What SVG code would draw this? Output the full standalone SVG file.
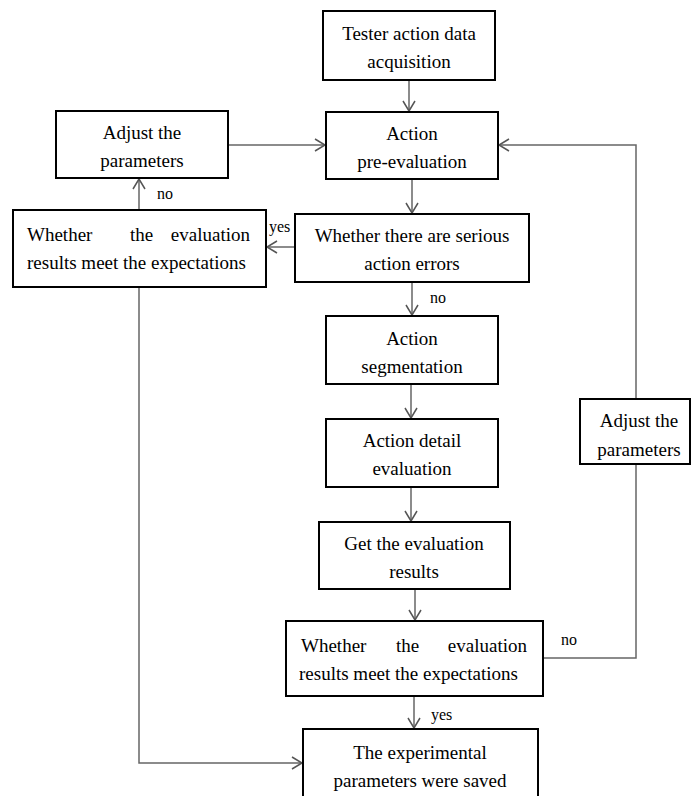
<svg xmlns="http://www.w3.org/2000/svg" width="692" height="796" viewBox="0 0 692 796">
<style>
.box{fill:#fff;stroke:#000;stroke-width:2}
text{font-family:'Liberation Serif','DejaVu Serif',serif;fill:#000}
.t{font-size:19px;text-anchor:middle}
.tl{font-size:19px}
.lb{font-size:16px}
.c{fill:none;stroke:#666;stroke-width:1.5}
</style>
<defs>
<marker id="ah" markerUnits="userSpaceOnUse" markerWidth="14" markerHeight="16" refX="11" refY="7" orient="auto">
<path d="M1,1 L11,7 L1,13" fill="none" stroke="#555" stroke-width="1.5"/>
</marker>
</defs>
<rect width="692" height="796" fill="#fff"/>
<g id="connectors">
<path class="c" d="M409,80 V111" marker-end="url(#ah)"/>
<path class="c" d="M412,179 V213" marker-end="url(#ah)"/>
<path class="c" d="M412,282 V315" marker-end="url(#ah)"/>
<path class="c" d="M411,384 V418" marker-end="url(#ah)"/>
<path class="c" d="M411,487 V521" marker-end="url(#ah)"/>
<path class="c" d="M415,589 V620" marker-end="url(#ah)"/>
<path class="c" d="M414,696 V728" marker-end="url(#ah)"/>
<path class="c" d="M228,145 H325" marker-end="url(#ah)"/>
<path class="c" d="M139,210 V179" marker-end="url(#ah)"/>
<path class="c" d="M295,247 H267" marker-end="url(#ah)"/>
<path class="c" d="M139,287 V763 H302" marker-end="url(#ah)"/>
<path class="c" d="M543,658 H636 V464"/>
<path class="c" d="M636,399 V145 H499" marker-end="url(#ah)"/>
<text class="lb" x="157" y="199">no</text>
<text class="lb" x="269" y="232">yes</text>
<text class="lb" x="430" y="303">no</text>
<text class="lb" x="561" y="645">no</text>
<text class="lb" x="431" y="720">yes</text>
</g>
<g id="n1"><rect class="box" x="323" y="11" width="172" height="69"/>
<text class="t" x="409" y="40">Tester action data</text><text class="t" x="409" y="68">acquisition</text></g>
<g id="n2"><rect class="box" x="326" y="112" width="172" height="67"/>
<text class="t" x="412" y="140">Action</text><text class="t" x="412" y="168">pre-evaluation</text></g>
<g id="n3"><rect class="box" x="56" y="111" width="172" height="67"/>
<text class="t" x="142" y="139">Adjust the</text><text class="t" x="142" y="167">parameters</text></g>
<g id="n4"><rect class="box" x="13" y="210" width="253" height="77"/>
<text class="tl" x="27" y="241">Whether</text><text class="tl" x="130" y="241">the</text><text class="tl" x="250" y="241" text-anchor="end">evaluation</text>
<text class="tl" x="27" y="269">results meet the expectations</text></g>
<g id="n5"><rect class="box" x="295" y="214" width="234" height="68"/>
<text class="t" x="412" y="242">Whether there are serious</text><text class="t" x="412" y="270">action errors</text></g>
<g id="n6"><rect class="box" x="326" y="316" width="172" height="68"/>
<text class="t" x="412" y="345">Action</text><text class="t" x="412" y="373">segmentation</text></g>
<g id="n7"><rect class="box" x="326" y="419" width="172" height="68"/>
<text class="t" x="412" y="447">Action detail</text><text class="t" x="412" y="475">evaluation</text></g>
<g id="n8"><rect class="box" x="319" y="522" width="191" height="67"/>
<text class="t" x="414" y="550">Get the evaluation</text><text class="t" x="414" y="578">results</text></g>
<g id="n9"><rect class="box" x="286" y="621" width="257" height="75"/>
<text class="tl" x="301" y="652">Whether</text><text class="tl" x="396" y="652">the</text><text class="tl" x="527" y="652" text-anchor="end">evaluation</text>
<text class="tl" x="299" y="680">results meet the expectations</text></g>
<g id="n10"><rect class="box" x="303" y="729" width="235" height="80"/>
<text class="t" x="420" y="759">The experimental</text><text class="t" x="420" y="787">parameters were saved</text></g>
<g id="n11"><rect class="box" x="580" y="399" width="110" height="65"/>
<text class="t" x="639" y="427">Adjust the</text><text class="t" x="639" y="456">parameters</text></g>
</svg>
